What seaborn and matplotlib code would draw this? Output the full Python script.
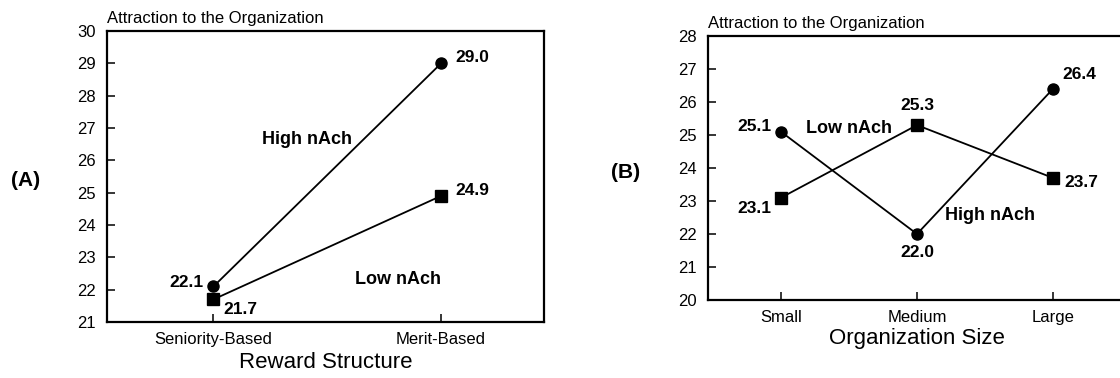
import matplotlib
matplotlib.use("Agg")
import matplotlib.pyplot as plt
import seaborn as sns
import pandas as pd

# Panel A: reward structure
reward_levels = ["Seniority-Based", "Merit-Based"]
reward_high = [22.1, 29.0]
reward_low = [21.7, 24.9]

# Panel B: organization size
size_levels = ["Small", "Medium", "Large"]
size_high = [25.1, 22.0, 26.4]
size_low = [23.1, 25.3, 23.7]

groups = ["High nAch", "Low nAch"]

sns.set_theme(style="ticks")
plt.rcParams["font.family"] = ["Liberation Sans", "DejaVu Sans"]
plt.rcParams["axes.linewidth"] = 1.6
for key in ("text.color", "axes.labelcolor", "xtick.color", "ytick.color",
            "xtick.labelcolor", "ytick.labelcolor", "axes.edgecolor"):
    plt.rcParams[key] = "black"

fig = plt.figure(figsize=(11.2, 3.78), dpi=100)
ax_a = fig.add_axes([0.0953, 0.1481, 0.3904, 0.7698])
ax_b = fig.add_axes([0.6321, 0.2063, 0.3733, 0.6984])


def long_frame(levels, high, low, xname):
    return pd.DataFrame({
        xname: list(levels) * 2,
        "value": list(high) + list(low),
        "group": [groups[0]] * len(levels) + [groups[1]] * len(levels),
    })


def draw(ax, df, xname, levels):
    sns.pointplot(data=df, x=xname, y="value", hue="group", order=levels,
                  hue_order=groups, palette={g: "black" for g in groups},
                  markers=["o", "s"], linestyles=["-", "-"], errorbar=None,
                  markersize=8, linewidth=1.3, legend=False, ax=ax)
    ax.set_ylabel("")
    ax.tick_params(axis="both", direction="in", length=6, width=1.1,
                   labelsize=12, colors="black")
    ax.tick_params(axis="y", pad=8)
    ax.tick_params(axis="x", pad=7)
    for s in ax.spines.values():
        s.set_visible(True)
        s.set_color("black")
    ax.annotate("Attraction to the Organization", xy=(0, 1), xycoords="axes fraction",
                xytext=(0, 6), textcoords="offset points", ha="left", va="baseline",
                fontsize=12, color="black")


def value_label(ax, levels, name, v, dx, dy, ha):
    ax.annotate(f"{v:.1f}", xy=(levels.index(name), v), xytext=(dx, dy),
                textcoords="offset points", ha=ha, va="center",
                fontsize=12.5, fontweight="bold", color="black")


# ---- Panel A ----
df_a = long_frame(reward_levels, reward_high, reward_low, "reward")
draw(ax_a, df_a, "reward", reward_levels)
ax_a.set_xlim(-0.469, 1.452)
ax_a.set_ylim(21, 30)
ax_a.set_yticks(range(21, 31))
ax_a.set_xlabel("Reward Structure", fontsize=16, labelpad=4, color="black")

value_label(ax_a, reward_levels, "Seniority-Based", reward_high[0], -7, 3, "right")
value_label(ax_a, reward_levels, "Merit-Based", reward_high[1], 10, 4, "left")
value_label(ax_a, reward_levels, "Seniority-Based", reward_low[0], 7, -7, "left")
value_label(ax_a, reward_levels, "Merit-Based", reward_low[1], 10, 4, "left")
ax_a.text(0.41, 26.63, "High nAch", ha="center", va="center", fontsize=13,
          fontweight="bold", color="black")
ax_a.text(0.81, 22.33, "Low nAch", ha="center", va="center", fontsize=13,
          fontweight="bold", color="black")

# ---- Panel B ----
df_b = long_frame(size_levels, size_high, size_low, "size")
draw(ax_b, df_b, "size", size_levels)
ax_b.set_xlim(-0.537, 2.537)
ax_b.set_ylim(20, 28)
ax_b.set_yticks(range(20, 29))
ax_b.set_xlabel("Organization Size", fontsize=16, labelpad=2, color="black")

value_label(ax_b, size_levels, "Small", size_high[0], -7, 4, "right")
value_label(ax_b, size_levels, "Medium", size_high[1], 0, -13, "center")
value_label(ax_b, size_levels, "Large", size_high[2], 7, 10, "left")
value_label(ax_b, size_levels, "Small", size_low[0], -7, -8, "right")
value_label(ax_b, size_levels, "Medium", size_low[1], 0, 14, "center")
value_label(ax_b, size_levels, "Large", size_low[2], 8, -3, "left")
ax_b.text(0.50, 25.2, "Low nAch", ha="center", va="center", fontsize=13,
          fontweight="bold", color="black")
ax_b.text(1.54, 22.56, "High nAch", ha="center", va="center", fontsize=13,
          fontweight="bold", color="black")

# Panel letters
fig.text(25.5 / 1120, 1 - 180 / 378, "(A)", ha="center", va="center", fontsize=15,
         fontweight="bold", color="black")
fig.text(626 / 1120, 1 - 172 / 378, "(B)", ha="center", va="center", fontsize=15,
         fontweight="bold", color="black")

fig.savefig("out.png", dpi=100, facecolor="white")
